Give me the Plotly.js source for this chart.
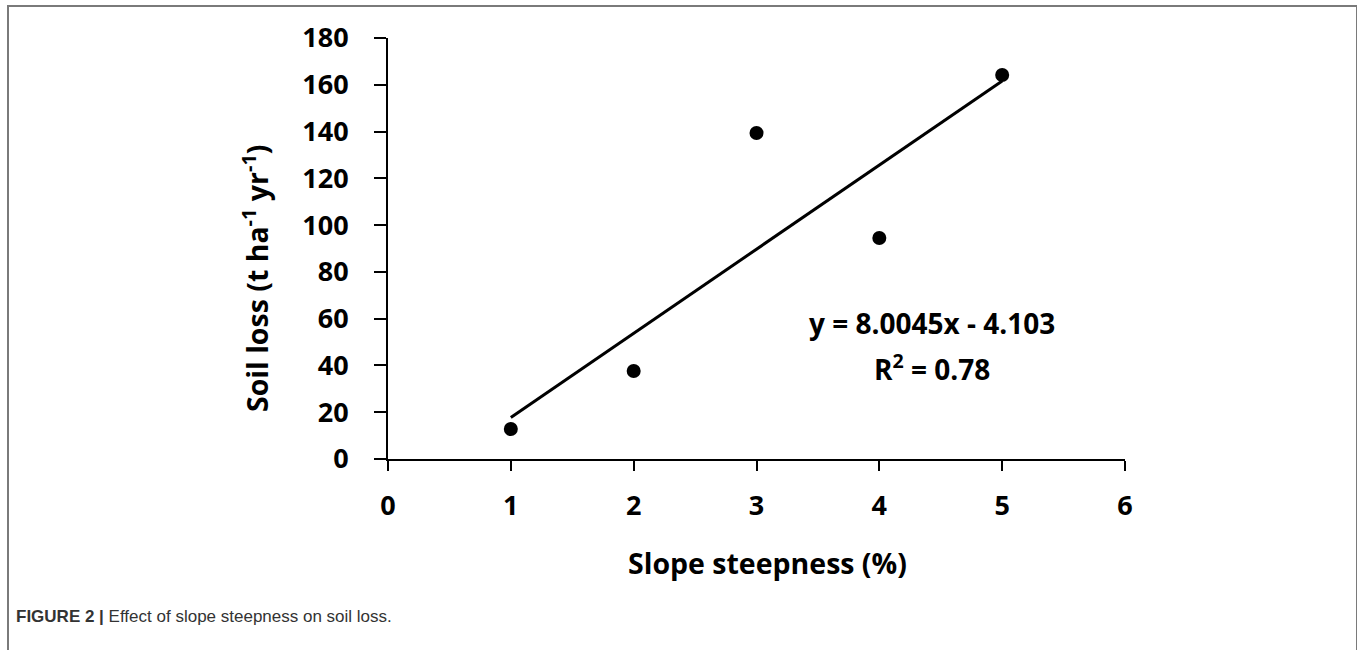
<!DOCTYPE html>
<html>
<head>
<meta charset="utf-8">
<script src="https://cdn.plot.ly/plotly-3.0.1.min.js"></script>
<style>
  html, body { margin: 0; padding: 0; background: #fff; }
  #frame { position: absolute; left: 7px; top: 5px; width: 1347px; height: 660px;
           border-left: 2px solid #7a7a7a; border-top: 2px solid #7a7a7a; border-right: 2px solid #7a7a7a; }
  #chart { position: absolute; left: 0; top: 0; width: 1357px; height: 650px; }
</style>
</head>
<body>
<div id="frame"></div>
<div id="chart"></div>
<script>
// Data
const slope = [1, 2, 3, 4, 5];
const soilLoss = [12.8, 37.6, 139.4, 94.5, 164.2];
const xTicks = [0, 1, 2, 3, 4, 5, 6];
const yTicks = [0, 20, 40, 60, 80, 100, 120, 140, 160, 180];
const equationText = 'y = 8.0045x - 4.103';
const r2Text = 'R<sup>2</sup> = 0.78';
const xTitle = 'Slope steepness (%)';
const yTitle = 'Soil loss (t ha<sup>-1</sup> yr<sup>-1</sup>)';
const caption = '<b>FIGURE 2 |</b> Effect of slope steepness on soil loss.';

// Least-squares linear trendline through the data
const n = slope.length;
const mx = slope.reduce((a, b) => a + b, 0) / n;
const my = soilLoss.reduce((a, b) => a + b, 0) / n;
let sxy = 0, sxx = 0;
for (let i = 0; i < n; i++) { sxy += (slope[i] - mx) * (soilLoss[i] - my); sxx += (slope[i] - mx) ** 2; }
const b1 = sxy / sxx, b0 = my - b1 * mx;
const trendX = [Math.min(...slope), Math.max(...slope)];
const trendY = trendX.map(x => b0 + b1 * x);

const L = 388, R = 1125, T = 38, B = 459;
const W = 1357, H = 650;
const px = x => (x - L) / (R - L);
const py = y => (B - y) / (B - T);

const font = 'Open Sans, DejaVu Sans, sans-serif';

const traces = [
  { x: trendX, y: trendY, mode: 'lines', line: { color: '#000', width: 3 }, hoverinfo: 'skip', showlegend: false },
  { x: slope, y: soilLoss, mode: 'markers', marker: { color: '#000', size: 14 }, showlegend: false }
];

const layout = {
  width: W, height: H,
  margin: { l: L, r: W - R, t: T, b: H - B },
  paper_bgcolor: 'rgba(0,0,0,0)', plot_bgcolor: 'rgba(0,0,0,0)',
  showlegend: false,
  xaxis: {
    range: [0, 6], tickvals: xTicks, ticktext: xTicks.map(String),
    showgrid: false, zeroline: false, showline: true, linecolor: '#000', linewidth: 2,
    ticks: 'outside', ticklen: 10, tickwidth: 2, tickcolor: '#000',
    tickfont: { family: font, size: 27, color: '#000', weight: 'bold' },
    ticklabelstandoff: 12, fixedrange: true
  },
  yaxis: {
    range: [0, 180], tickvals: yTicks, ticktext: yTicks.map(String),
    showgrid: false, zeroline: false, showline: true, linecolor: '#000', linewidth: 2,
    ticks: 'outside', ticklen: 12, tickwidth: 2, tickcolor: '#000',
    tickfont: { family: font, size: 27, color: '#000', weight: 'bold' },
    ticklabelstandoff: 20, fixedrange: true
  },
  annotations: [
    { text: equationText, xref: 'paper', yref: 'paper', x: px(932), y: py(323), xanchor: 'center', yanchor: 'middle',
      showarrow: false, font: { family: font, size: 28, color: '#000', weight: 'bold' } },
    { text: r2Text, xref: 'paper', yref: 'paper', x: px(932), y: py(367), xanchor: 'center', yanchor: 'middle',
      showarrow: false, font: { family: font, size: 28, color: '#000', weight: 'bold' } },
    { text: xTitle, xref: 'paper', yref: 'paper', x: px(767), y: py(563), xanchor: 'center', yanchor: 'middle',
      showarrow: false, font: { family: font, size: 28.5, color: '#000', weight: 'bold' } },
    { text: yTitle, xref: 'paper', yref: 'paper', x: px(255), y: py(278), xanchor: 'center', yanchor: 'middle',
      textangle: -90, showarrow: false, font: { family: font, size: 28.5, color: '#000', weight: 'bold' } },
    { text: caption, xref: 'paper', yref: 'paper', x: px(14), y: py(616), xanchor: 'left', yanchor: 'middle',
      showarrow: false, font: { family: 'Liberation Sans, Arial, sans-serif', size: 17, color: '#333' } }
  ]
};

Plotly.newPlot('chart', traces, layout, { displayModeBar: false, staticPlot: true });
</script>
</body>
</html>
